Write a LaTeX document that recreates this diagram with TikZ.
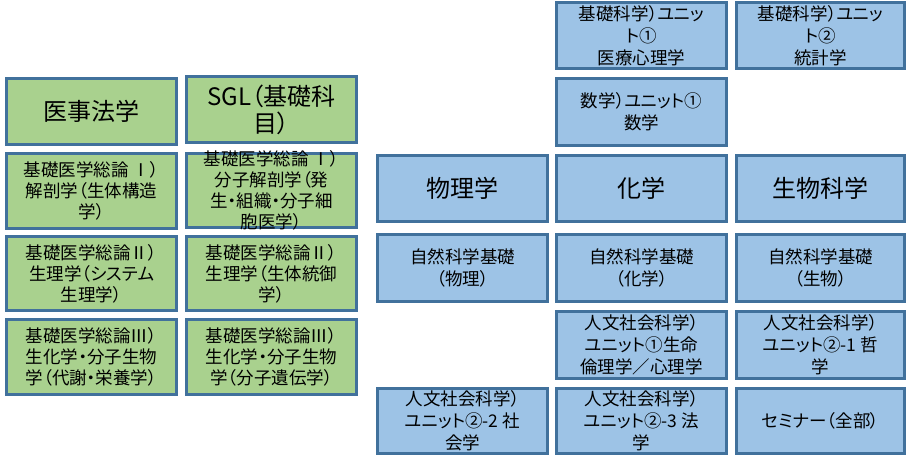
\documentclass[tikz,border=0pt]{standalone}
\usepackage{fontspec}
\setmainfont{Noto Sans CJK JP}[RawFeature=+palt]
\definecolor{gfill}{HTML}{A9D18E}
\definecolor{bfill}{HTML}{9DC3E6}
\definecolor{edge}{HTML}{41719C}
\tikzset{
  greenbox/.style={draw=edge, line width=3pt, fill=gfill, inner sep=0pt},
  bluebox/.style={draw=edge, line width=3pt, fill=bfill, inner sep=0pt},
  hdr/.style={align=center, inner sep=0pt, font=\fontsize{24}{27}\selectfont},
  sml/.style={align=center, inner sep=0pt, font=\fontsize{17.5}{21}\selectfont},
  smlb/.style={align=center, inner sep=0pt, font=\fontsize{17.5}{22}\selectfont}
}
\newcommand\bx[8]{%
  \pgfmathsetmacro\bxcx{(#2+#4)/2}%
  \pgfmathsetmacro\bxcy{(#3+#5)/2}%
  \pgfmathsetmacro\bxw{#4-#2-3}%
  \pgfmathsetmacro\bxh{#5-#3-3}%
  \node[#6, minimum width=\bxw pt, minimum height=\bxh pt] (#1) at (\bxcx pt,-\bxcy pt) {};
  \node[#7] (#1t) at (#1.center) {#8};}
\begin{document}
\begin{tikzpicture}
\useasboundingbox (0,0) rectangle (907pt,-457pt);
% green column
\bx{g1}{5}{77}{178}{146}{greenbox}{hdr}{医事法学}
\bx{g2}{185}{75}{358}{144}{greenbox}{hdr}{SGL（基礎科\\目）}
\bx{g3}{5}{152}{178}{230}{greenbox}{sml}{基礎医学総論 Ⅰ）\\解剖学（生体構造\\学）}
\bx{g4}{185}{152}{358}{229}{greenbox}{sml}{基礎医学総論 Ⅰ）\\分子解剖学（発\\生・組織・分子細\\胞医学）}
\bx{g5}{5}{235}{178}{312}{greenbox}{sml}{基礎医学総論Ⅱ）\\生理学（システム\\生理学）}
\bx{g6}{185}{235}{358}{312}{greenbox}{sml}{基礎医学総論Ⅱ）\\生理学（生体統御\\学）}
\bx{g7}{5}{318}{178}{396}{greenbox}{sml}{基礎医学総論Ⅲ）\\生化学・分子生物\\学（代謝・栄養学）}
\bx{g8}{185}{318}{358}{396}{greenbox}{sml}{基礎医学総論Ⅲ）\\生化学・分子生物\\学（分子遺伝学）}
% blue columns
\bx{b1}{555}{1}{728}{70}{bluebox}{smlb}{基礎科学）ユニッ\\ト①\\医療心理学}
\bx{b2}{735}{1}{906}{70}{bluebox}{smlb}{基礎科学）ユニッ\\ト②\\統計学}
\bx{b3}{555}{77}{728}{147}{bluebox}{smlb}{数学）ユニット①\\数学}
\bx{b4}{376}{154}{549}{223}{bluebox}{hdr}{物理学}
\bx{b5}{555}{154}{728}{223}{bluebox}{hdr}{化学}
\bx{b6}{735}{154}{906}{223}{bluebox}{hdr}{生物科学}
\bx{b7}{376}{233}{549}{303}{bluebox}{smlb}{自然科学基礎\\（物理）}
\bx{b8}{555}{233}{728}{303}{bluebox}{smlb}{自然科学基礎\\（化学）}
\bx{b9}{735}{233}{906}{303}{bluebox}{smlb}{自然科学基礎\\（生物）}
\bx{b10}{555}{310}{728}{380}{bluebox}{smlb}{人文社会科学）\\ユニット①生命\\倫理学／心理学}
\bx{b11}{735}{310}{906}{380}{bluebox}{smlb}{人文社会科学）\\ユニット②-1 哲\\学}
\bx{b12}{376}{387}{549}{455}{bluebox}{smlb}{人文社会科学）\\ユニット②-2 社\\会学}
\bx{b13}{555}{387}{728}{455}{bluebox}{smlb}{人文社会科学）\\ユニット②-3 法\\学}
\bx{b14}{735}{387}{906}{455}{bluebox}{smlb}{セミナー（全部）}
\end{tikzpicture}
\end{document}
